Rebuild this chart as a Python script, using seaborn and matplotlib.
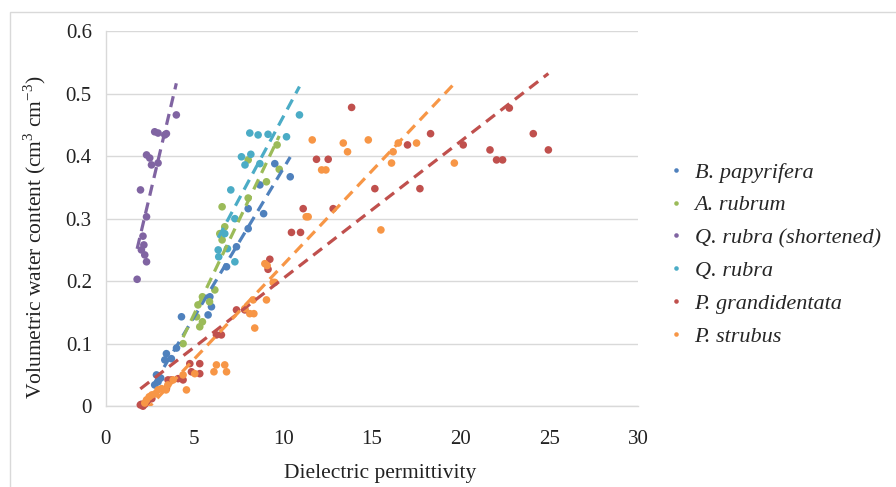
import pandas as pd
import matplotlib.pyplot as plt
import seaborn as sns
from matplotlib.patches import Rectangle

# Species, legend order
species = ['B. papyrifera', 'A. rubrum', 'Q. rubra (shortened)', 'Q. rubra',
           'P. grandidentata', 'P. strubus']
colors = ['#4F81BD', '#9BBB59', '#8064A2', '#4BACC6', '#C0504D', '#F79646']

# Dielectric permittivity (x) and volumetric water content (y) per species
bp_x = [2.76, 2.86, 2.95, 3.10, 3.33, 3.42, 3.70, 3.99, 4.27, 5.77, 5.96, 5.87,
        6.81, 7.37, 8.03, 8.03, 8.90, 8.69, 9.53, 10.40]
bp_y = [0.034, 0.050, 0.039, 0.045, 0.074, 0.084, 0.076, 0.093, 0.143, 0.146, 0.159, 0.175,
        0.223, 0.255, 0.284, 0.316, 0.308, 0.354, 0.388, 0.367]

ar_x = [4.36, 5.12, 5.20, 5.30, 5.45, 5.45, 5.85, 6.15, 6.43, 6.56, 6.56, 6.71,
        8.03, 8.03, 9.06, 9.66, 9.78]
ar_y = [0.100, 0.143, 0.162, 0.127, 0.135, 0.175, 0.167, 0.186, 0.276, 0.266, 0.319, 0.287,
        0.333, 0.394, 0.359, 0.418, 0.379]

qrs_x = [1.77, 1.96, 2.10, 2.01, 2.20, 2.30, 2.15, 2.30, 2.30, 2.48, 2.58, 2.95,
         2.76, 2.95, 3.33, 3.42, 3.98]
qrs_y = [0.203, 0.346, 0.272, 0.250, 0.242, 0.231, 0.258, 0.303, 0.402, 0.397, 0.386, 0.389,
         0.439, 0.437, 0.434, 0.436, 0.466]

qr_x = [6.34, 6.37, 6.71, 6.86, 7.28, 7.28, 7.05, 7.65, 7.85, 8.18, 8.69, 8.12,
        8.59, 9.15, 10.19, 10.92]
qr_y = [0.250, 0.239, 0.276, 0.252, 0.231, 0.300, 0.346, 0.399, 0.386, 0.403, 0.388, 0.437,
        0.434, 0.435, 0.431, 0.466]

pg_x = [1.95, 2.01, 2.10, 2.20, 2.30, 2.40, 2.60, 3.42, 3.51, 3.70, 4.08, 4.36, 4.74, 4.83,
        5.30, 5.30, 6.24, 6.52, 7.37, 7.84, 9.15, 9.25, 10.47, 10.98, 11.13, 12.82, 11.88,
        12.54, 13.86, 15.17, 17.71, 17.01, 18.31, 20.15, 21.66, 22.03, 22.37, 22.75, 24.10,
        24.95]
pg_y = [0.002, 0.003, 0.000, 0.003, 0.006, 0.010, 0.012, 0.028, 0.042, 0.042, 0.044, 0.042,
        0.068, 0.055, 0.068, 0.052, 0.114, 0.114, 0.154, 0.154, 0.219, 0.235, 0.278, 0.278,
        0.316, 0.316, 0.395, 0.395, 0.478, 0.348, 0.348, 0.418, 0.436, 0.418, 0.410, 0.394,
        0.394, 0.477, 0.436, 0.410]

ps_x = [2.20, 2.30, 2.45, 2.60, 2.80, 2.95, 3.15, 3.40, 3.50, 3.80, 4.36, 4.55,
        5.02, 6.10, 6.24, 6.71, 6.81, 7.84, 8.12, 8.35, 8.40, 8.31, 9.06, 8.97,
        9.10, 9.44, 9.53, 11.41, 11.30, 12.17, 12.41, 11.64, 13.39, 13.63, 14.80, 15.51,
        16.11, 16.20, 16.49, 17.52, 19.65]
ps_y = [0.005, 0.010, 0.015, 0.018, 0.020, 0.026, 0.028, 0.026, 0.034, 0.042, 0.050, 0.026,
        0.052, 0.055, 0.066, 0.066, 0.055, 0.156, 0.148, 0.148, 0.125, 0.170, 0.170, 0.228,
        0.225, 0.198, 0.198, 0.303, 0.303, 0.378, 0.378, 0.426, 0.421, 0.407, 0.426, 0.282,
        0.389, 0.407, 0.421, 0.421, 0.389]

series = [(bp_x, bp_y), (ar_x, ar_y), (qrs_x, qrs_y), (qr_x, qr_y), (pg_x, pg_y), (ps_x, ps_y)]
df = pd.concat([pd.DataFrame({'eps': sx, 'vwc': sy, 'species': name})
                for name, (sx, sy) in zip(species, series)], ignore_index=True)

sns.set_theme(style='white')
plt.rcParams['font.family'] = ['Liberation Serif', 'DejaVu Serif']
plt.rcParams['mathtext.fontset'] = 'custom'
plt.rcParams['mathtext.rm'] = 'Liberation Serif'

fig = plt.figure(figsize=(8.96, 4.87), dpi=100)
ax = fig.add_axes([0.118, 0.166, 0.594, 0.770])

# Points
sns.scatterplot(data=df, x='eps', y='vwc', hue='species', hue_order=species,
                palette=colors, s=30, edgecolor='none', linewidth=0,
                clip_on=False, zorder=3, ax=ax)

# Linear trendlines (dashed), over each series' range
for name, c in zip(species, colors):
    sns.regplot(data=df[df['species'] == name], x='eps', y='vwc', scatter=False,
                ci=None, truncate=True, color=c, ax=ax,
                line_kws=dict(ls=(0, (3.5, 2.2)), lw=2.3, zorder=4))

ax.set_xlim(0, 30)
ax.set_ylim(0, 0.6)
ax.set_xticks(range(0, 31, 5))
ax.set_yticks([0, 0.1, 0.2, 0.3, 0.4, 0.5, 0.6])
ax.set_yticklabels(['0', '0.1', '0.2', '0.3', '0.4', '0.5', '0.6'])
ax.tick_params(labelsize=15, length=0, colors='#222222')
ax.tick_params(axis='x', pad=17)
ax.tick_params(axis='y', pad=10)
ax.yaxis.grid(True, color='#d9d9d9', lw=1)
for s in ['top', 'right']:
    ax.spines[s].set_visible(False)
for s in ['left', 'bottom']:
    ax.spines[s].set_color('#d9d9d9')
    ax.spines[s].set_linewidth(1)

ax.set_xlabel('Dielectric permittivity', fontsize=15.5, color='#222222')
ax.set_ylabel('Volumetric water content (cm$^{\\mathrm{3}}$ cm$^{\\mathrm{-3}}$)',
              fontsize=15.5, color='#222222')
ax.xaxis.set_label_coords(0.515, -0.153)
ax.yaxis.set_label_coords(-0.108, 0.45)

ax.legend(loc='center left', bbox_to_anchor=(1.0, 0.405), frameon=False,
          markerscale=0.6, handlelength=1.6, handletextpad=0.05, labelspacing=0.55,
          prop={'family': 'Liberation Serif', 'style': 'italic', 'size': 16})

# Light chart-area border (left and top visible)
fig.patches.append(Rectangle((10 / 896, -0.1), 1.2, 1 - 12 / 487 + 0.1,
                             transform=fig.transFigure, fill=False,
                             edgecolor='#d9d9d9', lw=1))

plt.savefig('out.png', dpi=100)
